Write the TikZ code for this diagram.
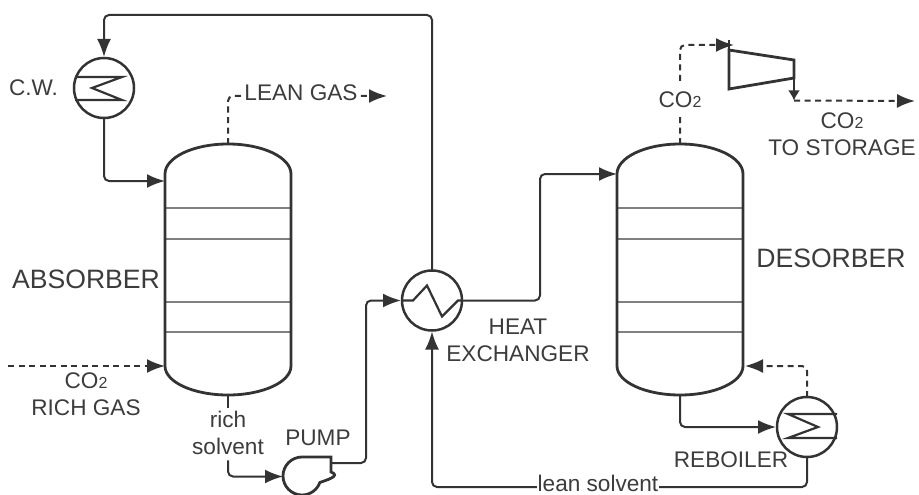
\documentclass[tikz,border=0pt]{standalone}
\usepackage{fontspec}
\setmainfont{Liberation Sans}
\usetikzlibrary{arrows.meta,positioning}

\definecolor{linegray}{HTML}{333333}
\definecolor{textgray}{HTML}{3C3C3C}
\newcommand{\sub}[1]{{\fontsize{16}{16}\selectfont #1}}

\begin{document}
\begin{tikzpicture}[
    x=1pt, y=1pt,
    every node/.style={inner sep=0pt, outer sep=0pt, align=center, text=textgray, font=\fontsize{22.6}{27}\selectfont},
    biglabel/.style={font=\fontsize{26.6}{30}\selectfont},
    column/.style={minimum width=126pt, minimum height=251pt},
    exchanger/.style={draw=linegray, line width=2.5pt, circle, minimum size=60pt},
    vessel/.style={draw=linegray, line width=2.8pt},
    tray/.style={draw=gray, line width=1.1pt},
    coil/.style={draw=linegray, line width=2.2pt},
    stream/.style={draw=linegray, line width=2pt, rounded corners=5pt, -{Latex[length=18pt,width=14pt]}},
    plain/.style={draw=linegray, line width=2pt, rounded corners=5pt},
    gas/.style={stream, dash pattern=on 6pt off 4.5pt},
    onstream/.style={fill=white, inner xsep=1pt, inner ysep=2pt}
]
\useasboundingbox (0,0) rectangle (919,-495);

% Columns
\foreach \name/\xc in {absorber/228, desorber/680} {
    \node (\name) [column] at (\xc,-269.5) {};
    \foreach \yt in {208,239,302,332}
        \draw[tray] (\name.west |- 0,-\yt) -- (\name.east |- 0,-\yt);
    \draw[vessel] ([yshift=-30pt]\name.north west) arc (180:0:63pt and 30pt)
        -- ([yshift=29pt]\name.south east) arc (0:-180:63pt and 29pt) -- cycle;
}

% Exchangers
\node (cw) [exchanger] at (104,-88) {};
\node (hx) [exchanger] at (432,-300.5) {};
\node (reboiler) [exchanger] at (807,-427) {};
\draw[coil, shift={(cw.center)}] (-29,11) -- (18,11) -- (-12,0) -- (18,-12) -- (-29,-12);
\draw[coil, shift={(reboiler.center)}] (30,13) -- (-19,13) -- (11,0) -- (-19,-11) -- (30,-11);
\draw[coil, shift={(hx.center)}] (-29,0) -- (-19,0) -- (-5,15) -- (10,-16) -- (26,0) -- (30,0);

% Pump and compressor
\node (pump) [minimum width=48pt, minimum height=39pt] at (307,-476.5) {};
\draw[vessel] (pump.north east) -- ++(-29,0) arc (90:340:19pt)
    .. controls ++(5,2) and ++(11,-4) .. ([yshift=24pt]pump.south east) -- cycle;
\node (compressor) [minimum width=65pt, minimum height=39pt] at (761.5,-69.5) {};
\draw[vessel] (compressor.north west) -- ([yshift=-10pt]compressor.north east)
    -- ([yshift=11pt]compressor.south east) -- (compressor.south west) -- cycle;
\draw[vessel] (compressor.north west) -- ++(0,10);

% Free ends
\coordinate (leanend) at (387,-96);
\coordinate (richstart) at (8,-366);
\coordinate (compout) at (794,-100.5);
\coordinate (storage) at (915,-101);

% Labels
\node (rich) [fill=white] at (228,-432.5) {rich\\solvent};

% Arrows
\draw[stream] (hx.north) |- (cw.north |- 0,-15) -- ([yshift=1pt]cw.north);
\draw[stream] (cw.south) |- (absorber.west |- 0,-181);
\draw[gas] (absorber.north) |- (leanend);
\draw[gas] (richstart) -- (absorber.west |- richstart);
\draw[plain] (absorber.south) -- ([yshift=3pt]rich.north);
\draw[stream] ([yshift=-6pt]rich.south) |- (pump.west);
\draw[stream] (pump.east |- 0,-463) -| (366,-380) |- ([xshift=-1pt]hx.west);
\draw[stream] (hx.east) -| (540,-240) |- (desorber.west |- 0,-174);
\draw[stream] (desorber.south) |- ([xshift=-1pt]reboiler.west);
\draw[stream] (reboiler.south) |- (hx.south |- 0,-487) -- ([yshift=-1pt]hx.south);
\draw[gas] (reboiler.north) |- ([xshift=2pt]desorber.east |- 0,-366);
\draw[gas] (desorber.north) |- (734,-45);
\draw[stream, -{Latex[length=10pt,width=12pt]}] ([yshift=11pt]compressor.south east) -- (compout);
\draw[gas] (compout) -- (storage);

% Texts
\node (cwlabel) [left=16pt of cw] {C.W.};
\node (leangas) [onstream] at (301,-93) {LEAN GAS};
\node (absorberlabel) [biglabel] at (86,-279) {ABSORBER};
\node (richgas) at (86,-394) {CO\sub{2}\\RICH GAS};
\node (pumplabel) at (318,-438) {PUMP};
\node (hxlabel) at (518,-340) {HEAT\\EXCHANGER};
\node (leansolvent) [fill=white, inner xsep=1pt] at (598,-483) {lean solvent};
\node (reboilerlabel) at (731,-460) {REBOILER};
\node (desorberlabel) [biglabel] at (831,-258) {DESORBER};
\node (co2label) [onstream, inner ysep=9pt] at (680,-100) {CO\sub{2}};
\node (storagelabel) at (842,-134) {CO\sub{2}\\TO STORAGE};

\end{tikzpicture}
\end{document}
